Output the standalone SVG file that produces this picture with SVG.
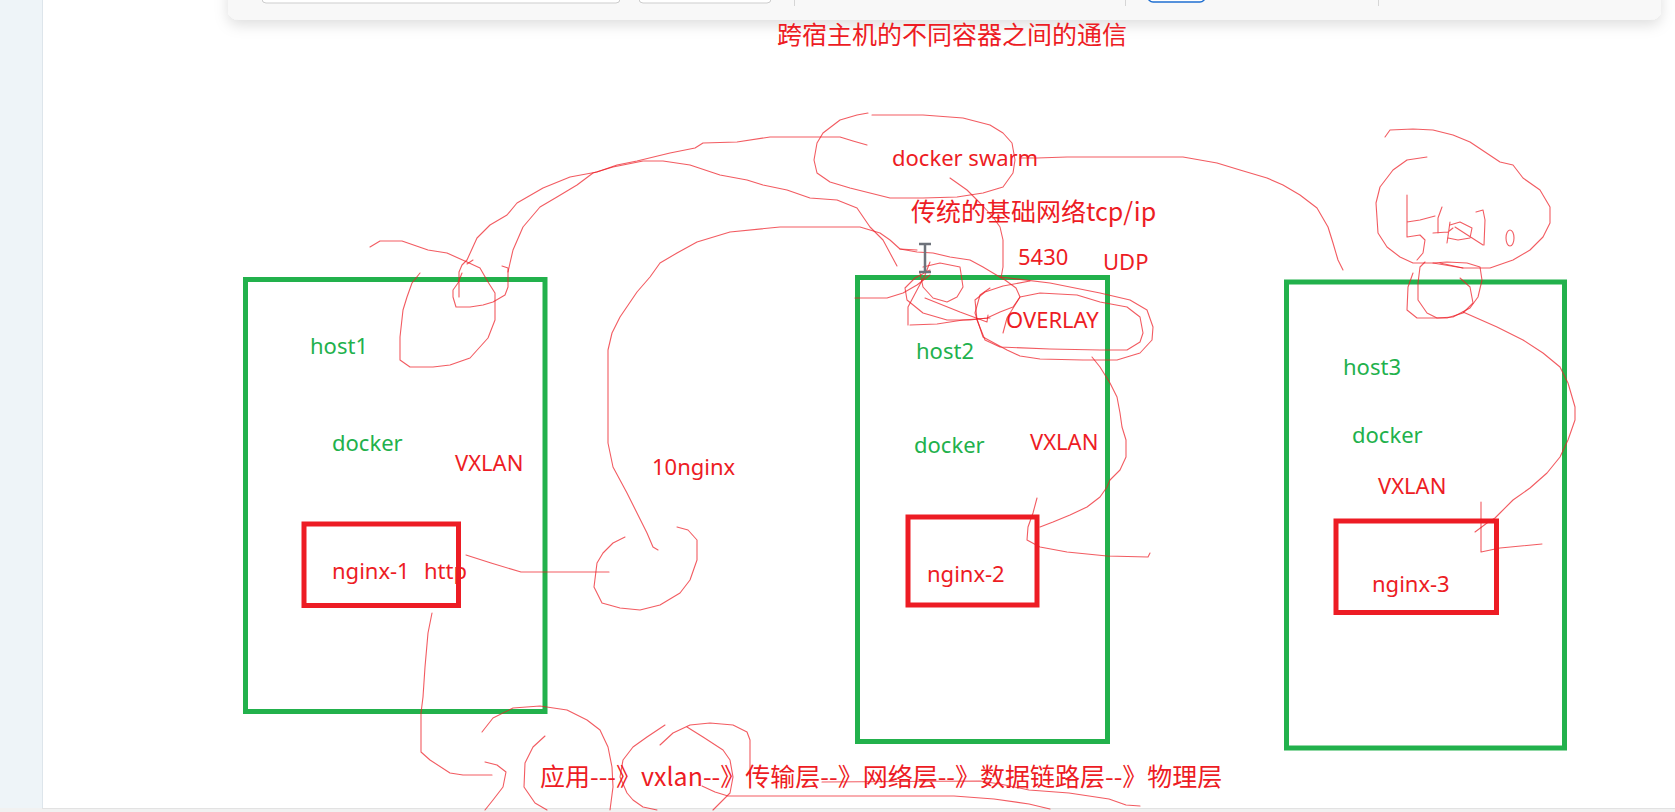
<svg xmlns="http://www.w3.org/2000/svg" width="1675" height="812" viewBox="0 0 1675 812">
<defs>
<filter id="sh" x="-5%" y="-50%" width="110%" height="250%">
<feDropShadow dx="0" dy="5" stdDeviation="7" flood-color="#000" flood-opacity="0.13"/>
</filter>
</defs>
<style>
.host{fill:none;stroke:#22b14c;stroke-width:5}
.ctr{fill:none;stroke:#ed1c24;stroke-width:5}
.g{font-family:"Noto Sans","Open Sans",sans-serif;font-size:22px;fill:#22b14c}
.r{font-family:"Noto Sans","Open Sans",sans-serif;font-size:22px;fill:#ed1c24}
.cjk{font-family:"Noto Sans CJK SC","Noto Sans",sans-serif;font-size:25px;fill:#ed1c24}
.ink{fill:none;stroke:#ed1c24;stroke-width:1.1;stroke-opacity:0.72;stroke-linejoin:round;stroke-linecap:round}
</style>
<rect width="1675" height="812" fill="#ffffff"/>
<!-- UI chrome -->
<rect x="0" y="0" width="42" height="812" fill="#eef4f8"/>
<line x1="42.5" y1="0" x2="42.5" y2="812" stroke="#dde5eb"/>
<rect x="0" y="808" width="1675" height="4" fill="#f1f1f1"/>
<line x1="42" y1="808.5" x2="1675" y2="808.5" stroke="#e2e2e2"/>
<rect x="228" y="-20" width="1433" height="40" rx="10" fill="#f8f8f8" filter="url(#sh)"/>
<rect x="262" y="-12" width="358" height="15" rx="4" fill="#ffffff" stroke="#cdcdcd"/>
<rect x="639" y="-12" width="132" height="15" rx="4" fill="#ffffff" stroke="#cdcdcd"/>
<line x1="794.5" y1="0" x2="794.5" y2="6" stroke="#d6d6d6"/>
<line x1="1125.5" y1="0" x2="1125.5" y2="6" stroke="#d6d6d6"/>
<line x1="1378.5" y1="0" x2="1378.5" y2="6" stroke="#d6d6d6"/>
<rect x="1148" y="-12" width="57" height="14" rx="5" fill="#ffffff" stroke="#1f6fd1" stroke-width="1.5"/>

<text class="cjk" x="777" y="44">跨宿主机的不同容器之间的通信</text>

<g id="host1">
<rect class="host" x="245.5" y="279.5" width="299.5" height="432"/>
<text class="g" x="310" y="354">host1</text>
<text class="g" x="332" y="451">docker</text>
<text class="r" x="455" y="471">VXLAN</text>
<g id="nginx-1">
<rect class="ctr" x="304" y="524" width="154.5" height="81.5"/>
<text class="r" x="332" y="579">nginx-1</text>
<text class="r" x="424" y="579">http</text>
</g>
</g>

<g id="host2">
<rect class="host" x="857.5" y="277.5" width="250" height="464"/>
<text class="g" x="916" y="359">host2</text>
<text class="g" x="914" y="453">docker</text>
<text class="r" x="1030" y="450">VXLAN</text>
<g id="nginx-2">
<rect class="ctr" x="908" y="517" width="129" height="88"/>
<text class="r" x="927" y="582">nginx-2</text>
</g>
</g>

<g id="host3">
<rect class="host" x="1286.5" y="282" width="278" height="466"/>
<text class="g" x="1343" y="375">host3</text>
<text class="g" x="1352" y="443">docker</text>
<text class="r" x="1378" y="494">VXLAN</text>
<g id="nginx-3">
<rect class="ctr" x="1336" y="521" width="160.5" height="91.5"/>
<text class="r" x="1372" y="592">nginx-3</text>
</g>
</g>

<g id="labels">
<text class="r" x="892" y="166">docker swarm</text>
<text class="cjk" x="911" y="221">传统的基础网络tcp/ip</text>
<text class="r" x="1018" y="265">5430</text>
<text class="r" x="1103" y="270">UDP</text>
<text class="r" x="1006" y="328">OVERLAY</text>
<text class="r" x="652" y="475">10nginx</text>
<text class="cjk" x="540" y="786">应用---》vxlan--》传输层--》网络层--》数据链路层--》物理层</text>
</g>

<g id="connectors">
<path class="ink" d="M370,247 L380,241 L402,241 L428,250 L447,253 L467,262 L480,268 L488,282 L495,293 L495,320 L488,338 L470,358 L450,365 L433,367 L410,367 L400,360 L400,337 L403,310 L407,297 L412,283 L420,273"/>
<path class="ink" d="M459,297 L459,272 L462,265 L467,260 L477,238 L490,225 L507,215 L517,203 L543,188 L570,177 L597,172 L617,165 L637,161 L670,153 L695,148 L703,143 L737,142 L770,137 L840,137 L853,141 L867,145"/>
<path class="ink" d="M467,264 L473,260"/>
<path class="ink" d="M502,266 L508,268 L508,287 L505,295 L493,302 L483,305 L470,307 L456,307 L453,297 L453,290 L458,283 L462,273"/>
<path class="ink" d="M508,272 L510,263 L513,250 L523,227 L540,207 L557,197 L577,185 L593,173 L613,167 L643,161 L663,161 L690,165 L720,175 L747,180 L763,185 L787,190 L810,198 L837,200 L857,208 L870,227 L883,240 L890,253 L897,266"/>
<path class="ink" d="M658,550 L653,547 L647,533 L637,513 L627,493 L613,467 L608,443 L608,383 L608,350 L612,333 L620,317 L637,292 L650,277 L660,263 L677,253 L697,242 L730,232 L780,227 L860,227 L880,233 L890,240 L900,249 L917,252 L933,253 L950,257 L970,260 L983,267 L993,273 L1005,280 L1016,288 L1020,297 L1013,307 L1000,312 L987,318 L970,320 L947,320 L923,313 L907,300 L905,288 L915,278 L930,270"/>
<path class="ink" d="M625,537 L613,543 L603,553 L597,563 L594,587 L602,603 L620,608 L640,610 L660,605 L680,593 L690,580 L697,560 L697,540 L688,530 L677,527"/>
<path class="ink" d="M466,555 L491,563 L521,572 L609,572"/>
<path class="ink" d="M432,613 L428,633 L425,667 L423,697 L421,713 L421,752 L430,760 L450,773 L463,775 L492,775"/>
<path class="ink" d="M485,762 L497,765 L506,772 L503,787 L493,800 L485,810"/>
<path class="ink" d="M482,732 L493,718 L513,708 L540,706 L567,710 L587,720 L600,730 L608,747 L612,767 L613,787 L610,810"/>
<path class="ink" d="M545,736 L533,747 L525,763 L524,787 L535,803 L547,810"/>
<path class="ink" d="M665,725 L647,737 L633,747 L623,760 L620,777 L627,793 L633,800 L643,807 L657,810"/>
<path class="ink" d="M660,745 L673,733 L690,725 L710,723 L733,725 L747,732 L750,740 L750,780"/>
<path class="ink" d="M687,727 L703,737 L723,750 L730,760 L733,777 L730,793 L720,803 L713,810"/>
<path class="ink" d="M702,786 L715,792 L728,796 L805,796 L954,796 L994,799 L1029,804 L1050,809"/>
<path class="ink" d="M822,782 L980,781 L1000,784 L1029,790 L1069,793 L1109,799 L1126,805 L1140,806"/>
<path class="ink" d="M950,178 L967,190 L980,203 L993,217 L1000,227 L1003,240 L1003,267 L1001,278"/>
<path class="ink" d="M855,298 L887,298 L903,293 L917,285 L930,275"/>
<path class="ink" d="M923,267 L940,263 L960,267 L963,287 L957,297 L947,302 L933,298 L923,287 L920,273"/>
<path class="ink" d="M908,325 L908,307 L917,290 L925,275 L930,262"/>
<path class="ink" d="M910,325 L937,324 L963,320 L990,318"/>
<path class="ink" d="M925,298 L960,312 L987,322 L988,315"/>
<path class="ink" d="M900,249 L917,250"/>
<path class="ink" d="M1003,333 L1007,318 L1020,297 L1040,293 L1077,295 L1100,302 L1127,307 L1140,317 L1143,333 L1140,342 L1127,350 L1100,350 L1050,349 L1000,347 L985,340 L977,320 L975,300 L985,292 L1003,286 L1030,281"/>
<path class="ink" d="M1000,277 L1050,283 L1100,293 L1130,300 L1147,310 L1153,327 L1152,340 L1140,353 L1117,360 L1083,360 L1040,359 L1020,356 L1007,350 L983,337 L975,313 L980,295 L990,288"/>
<path class="ink" d="M1092,357 L1100,367 L1110,383 L1117,397 L1120,413 L1122,427 L1126,440 L1126,457 L1120,470 L1110,480 L1107,487 L1100,497 L1087,507 L1070,515 L1053,522 L1040,527"/>
<path class="ink" d="M1037,498 L1033,513 L1028,527 L1027,540 L1040,547 L1067,552 L1107,556 L1148,557 L1150,553"/>
<path class="ink" d="M868,113 L857,115 L840,120 L823,133 L817,143 L814,160 L817,173 L830,182 L850,188 L890,198 L923,198 L957,197 L983,193 L1003,187 L1013,173 L1015,160 L1012,143 L1003,133 L990,125 L963,118 L923,115 L890,115 L872,115"/>
<path class="ink" d="M1020,158 L1037,158 L1067,157 L1133,157 L1183,157 L1217,163 L1240,170 L1267,178 L1283,185 L1300,195 L1317,208 L1328,227 L1333,243 L1338,260 L1343,270"/>
<path class="ink" d="M1385,137 L1390,130 L1413,129 L1433,130 L1453,135 L1470,142 L1500,162 L1513,165 L1523,178 L1540,190 L1550,207 L1550,223 L1543,237 L1530,250 L1513,260 L1490,268 L1463,268 L1440,263"/>
<path class="ink" d="M1427,157 L1407,160 L1393,170 L1380,187 L1376,203 L1378,233 L1387,247 L1400,257 L1413,263 L1433,263 L1463,268"/>
<path class="ink" d="M1407,195 L1407,237 M1407,222 L1420,220 L1435,216 M1407,237 L1420,235 L1425,240 L1423,253 L1417,260"/>
<path class="ink" d="M1442,207 L1438,218 L1438,233 M1433,233 L1448,232 L1453,228 M1450,222 L1447,243"/>
<path class="ink" d="M1450,225 L1460,222 L1472,228 L1470,238 L1458,240 L1448,238 M1455,227 L1483,245 M1476,212 L1483,210 L1485,220 L1484,245"/>
<ellipse class="ink" cx="1510" cy="238" rx="4" ry="8"/>
<path class="ink" d="M1425,262 L1420,267 L1418,283 L1418,300 L1427,313 L1437,318 L1453,317 L1470,308 L1478,297 L1482,280 L1480,267 L1467,263 L1447,262 L1433,263"/>
<path class="ink" d="M1413,273 L1408,287 L1407,310 L1417,318 L1447,318 L1463,313 L1473,303 L1470,287 L1460,278"/>
<path class="ink" d="M1463,312 L1497,327 L1523,340 L1543,353 L1560,367 L1568,383 L1575,407 L1575,420 L1568,440 L1560,457 L1547,473 L1530,488 L1513,500 L1500,513 L1495,518 L1487,523 L1475,532"/>
<path class="ink" d="M1481,502 L1481,552 L1500,548 L1542,544"/>
</g>
<g id="cursor">
<path d="M919,244 L931,244 M925,244 L925,272 M919,272 L931,272" fill="none" stroke="#6e737b" stroke-width="2.5"/>
</g>
</svg>
